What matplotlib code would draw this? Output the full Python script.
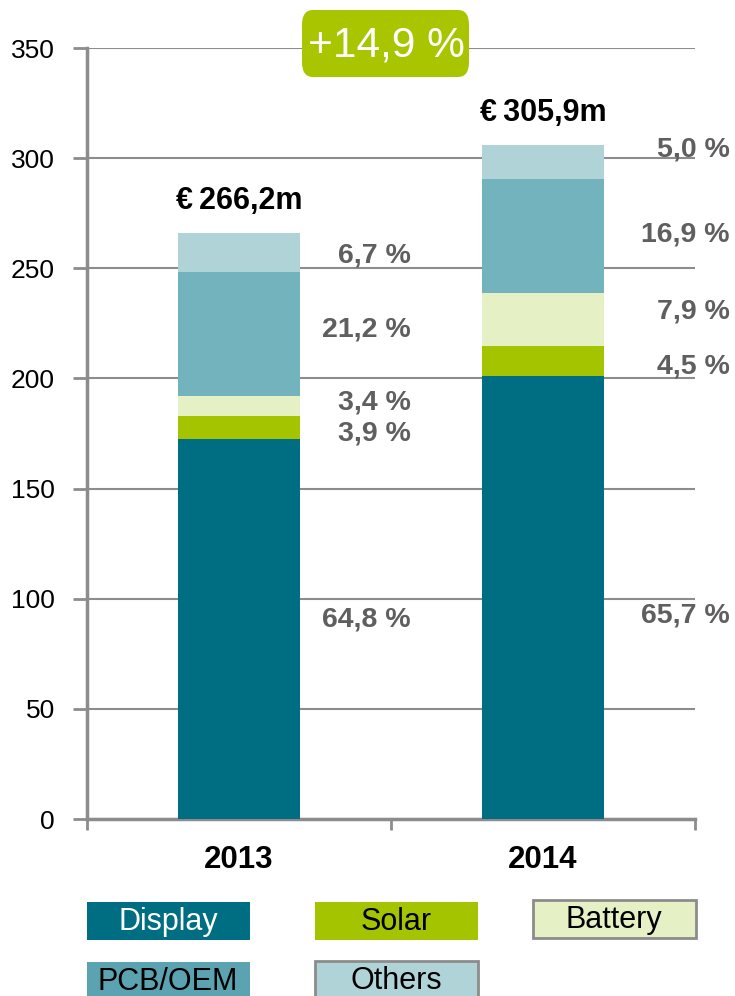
import matplotlib.pyplot as plt
from matplotlib.patches import Rectangle, FancyBboxPatch
import numpy as np

plt.rcParams['font.family'] = ['Liberation Sans', 'DejaVu Sans']

# Data
years = ["2013", "2014"]
totals = [266.2, 305.9]
segments = ["Display", "Solar", "Battery", "PCB/OEM", "Others"]
shares_2013 = [64.8, 3.9, 3.4, 21.2, 6.7]
shares_2014 = [65.7, 4.5, 7.9, 16.9, 5.0]
total_labels = ["€266,2m", "€305,9m"]
growth_label = "+14,9 %"
colors = ["#006E82", "#A5C400", "#E6F0C5", "#73B3BE", "#B0D3D7"]
legend_colors = ["#006E82", "#A5C400", "#E6F0C5", "#5BA3B0", "#B0D3D7"]
text_colors = ["white", "black", "black", "black", "black"]

shares = np.array([shares_2013, shares_2014])      # years x segments
values = shares * np.array(totals)[:, None] / 100.0

# small vertical nudges of the percent labels (data units), as in the original
nudge = np.array([[4.3, -2.7, 1.6, 2.0, -1.4],
                  [-7.9, -2.3, 3.7, 0.7, 5.5]])

fig = plt.figure(figsize=(7.35, 9.96), dpi=100)
ax = fig.add_axes([87 / 735, 1 - 819 / 996, 608 / 735, 771 / 996])

x = np.arange(len(years))
grid_col = "#8C8C8C"
label_col = "#5F5F5F"

bottom = np.zeros(len(years))
for i, seg in enumerate(segments):
    ax.bar(x, values[:, i], width=0.4, bottom=bottom, color=colors[i],
           edgecolor="none", zorder=3)
    # percent labels to the right of each bar
    for j in range(len(years)):
        xpos = x[j] + (0.565 if j == 0 else 0.615)
        ax.text(xpos, bottom[j] + values[j, i] / 2 + nudge[j, i],
                f"{shares[j, i]:.1f} %".replace(".", ","),
                ha="right", va="center", fontsize=20.5, fontweight="bold",
                color=label_col, clip_on=False, zorder=4)
    bottom += values[:, i]

# totals above the bars
for j in range(len(years)):
    ax.annotate(total_labels[j].replace("€", "€\u2009"), (x[j], totals[j]),
                xytext=(0, 12), textcoords="offset points", ha="center",
                va="bottom", fontsize=22, fontweight="bold", color="black")

ax.set_xlim(-0.5, 1.5)
ax.set_ylim(0, 350)
ax.set_yticks(np.arange(0, 351, 50))
ax.yaxis.grid(True, color=grid_col, linewidth=1.5)
ax.set_axisbelow(True)

ax.set_xticks(x)
ax.set_xticklabels(years, fontsize=22.5, fontweight="bold")
ax.set_xticks([-0.5, 0.5, 1.5], minor=True)
ax.tick_params(axis="x", which="major", length=0, pad=19)
ax.tick_params(axis="x", which="minor", length=8, width=2, color=grid_col)
ax.tick_params(axis="y", length=10, width=2, color=grid_col, labelsize=19, pad=13)

for s in ["top", "right"]:
    ax.spines[s].set_visible(False)
for s in ["left", "bottom"]:
    ax.spines[s].set_color(grid_col)
    ax.spines[s].set_linewidth(2.5)

# growth badge
W, H = 735, 996
badge = FancyBboxPatch((302 / W, 1 - 77 / H), 167 / W, 67 / H,
                       boxstyle="round,pad=0,rounding_size=0.015",
                       transform=fig.transFigure, facecolor="#A8C500",
                       edgecolor="none", zorder=5)
fig.patches.append(badge)
fig.text(386 / W, 1 - 45 / H, growth_label, ha="center", va="center",
         fontsize=30.5, color="white", zorder=6)

# legend boxes
legend_pos = [(87, 902), (315, 902), (533, 900), (87, 962), (315, 961)]
for i, seg in enumerate(segments):
    lx, ly = legend_pos[i]
    light = i in (2, 4)
    rect = Rectangle((lx / W, 1 - (ly + 38) / H), 163 / W, 38 / H,
                     transform=fig.transFigure, facecolor=legend_colors[i],
                     edgecolor="#8C8C8C" if light else "none", linewidth=2)
    fig.patches.append(rect)
    fig.text((lx + 81) / W, 1 - (ly + 20) / H, seg, ha="center", va="center",
             fontsize=22, color=text_colors[i])

fig.savefig("out.png", dpi=100)
